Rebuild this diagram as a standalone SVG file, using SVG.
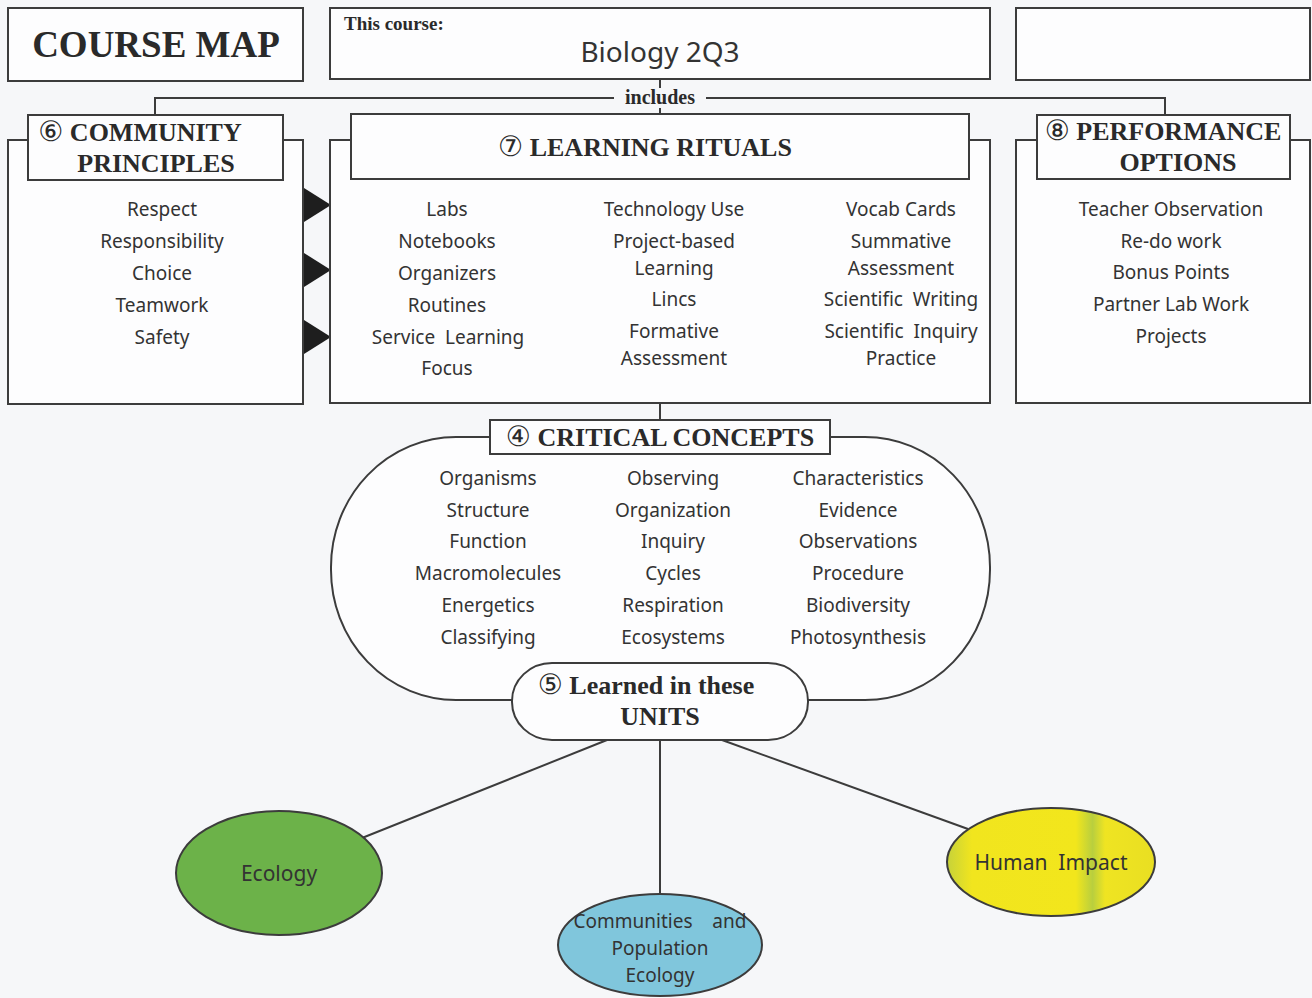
<svg xmlns="http://www.w3.org/2000/svg" width="1312" height="998" viewBox="0 0 1312 998">
<style>
.box{fill:#fdfdfe;stroke:#3c3c3c;stroke-width:2}
.hd{font-family:"Liberation Serif",serif;font-weight:bold;fill:#2a2a2a;text-anchor:middle}
.num{font-family:"DejaVu Sans",sans-serif;font-weight:normal;font-size:28px}
.t{font-family:"Noto Sans","DejaVu Sans",sans-serif;font-size:19px;fill:#333;text-anchor:middle}
.ln{stroke:#3c3c3c;stroke-width:2;fill:none}
.tri{fill:#1e1e1e}
</style>
<defs>
<linearGradient id="yg" x1="0" y1="0" x2="1" y2="0">
<stop offset="0" stop-color="#c6d23a"/>
<stop offset="0.12" stop-color="#f1e51e"/>
<stop offset="0.62" stop-color="#f2e61c"/>
<stop offset="0.7" stop-color="#b9cf3e"/>
<stop offset="0.76" stop-color="#efe422"/>
<stop offset="1" stop-color="#e9df22"/>
</linearGradient>
</defs>
<rect x="0" y="0" width="1312" height="998" fill="#f6f7f9"/>

<g id="connectors">
<line class="ln" x1="660" y1="79" x2="660" y2="114"/>
<line class="ln" x1="155" y1="98" x2="614" y2="98"/>
<line class="ln" x1="706" y1="98" x2="1165" y2="98"/>
<line class="ln" x1="155" y1="97" x2="155" y2="115"/>
<line class="ln" x1="1165" y1="97" x2="1165" y2="115"/>
<rect x="616" y="88" width="88" height="20" fill="#f6f7f9"/>
<text class="hd" x="660" y="104" font-size="20">includes</text>
<polygon class="tri" points="304,188 331,205 304,222"/>
<polygon class="tri" points="304,253 331,270 304,287"/>
<polygon class="tri" points="304,320 331,337 304,354"/>
<line class="ln" x1="660" y1="403" x2="660" y2="420"/>
<line class="ln" x1="607" y1="740" x2="362" y2="838"/>
<line class="ln" x1="660" y1="740" x2="660" y2="894"/>
<line class="ln" x1="722" y1="740" x2="968" y2="829"/>
</g>

<g id="course-map">
<rect class="box" x="8" y="8" width="295" height="73"/>
<text class="hd" x="156" y="57" font-size="37">COURSE MAP</text>
</g>

<g id="this-course">
<rect class="box" x="330" y="8" width="660" height="71"/>
<text class="hd" x="344" y="30" style="font-size:19px;text-anchor:start">This course:</text>
<text class="t" x="660" y="62" style="font-size:28px">Biology 2Q3</text>
</g>

<g id="blank-box">
<rect class="box" x="1016" y="8" width="294" height="72"/>
</g>

<g id="community-principles">
<rect class="box" x="8" y="140" width="295" height="264"/>
<rect class="box" x="28" y="115" width="255" height="65"/>
<text class="hd" x="140" y="141" font-size="26"><tspan class="num">⑥</tspan> COMMUNITY</text>
<text class="hd" x="156" y="172" font-size="26">PRINCIPLES</text>
<text class="t" x="162" y="216">Respect</text>
<text class="t" x="162" y="248">Responsibility</text>
<text class="t" x="162" y="280">Choice</text>
<text class="t" x="162" y="312">Teamwork</text>
<text class="t" x="162" y="344">Safety</text>
</g>

<g id="learning-rituals">
<rect class="box" x="330" y="140" width="660" height="263"/>
<rect class="box" x="351" y="114" width="618" height="65"/>
<text class="hd" x="645" y="156" font-size="26"><tspan class="num">⑦</tspan> LEARNING RITUALS</text>
<text class="t" x="447" y="216">Labs</text>
<text class="t" x="447" y="248">Notebooks</text>
<text class="t" x="447" y="280">Organizers</text>
<text class="t" x="447" y="312">Routines</text>
<text class="t" x="448" y="344" xml:space="preserve">Service  Learning</text>
<text class="t" x="447" y="375">Focus</text>
<text class="t" x="674" y="216">Technology Use</text>
<text class="t" x="674" y="248">Project-based</text>
<text class="t" x="674" y="275">Learning</text>
<text class="t" x="674" y="306">Lincs</text>
<text class="t" x="674" y="338">Formative</text>
<text class="t" x="674" y="365">Assessment</text>
<text class="t" x="901" y="216">Vocab Cards</text>
<text class="t" x="901" y="248">Summative</text>
<text class="t" x="901" y="275">Assessment</text>
<text class="t" x="901" y="306" xml:space="preserve">Scientific  Writing</text>
<text class="t" x="901" y="338" xml:space="preserve">Scientific  Inquiry</text>
<text class="t" x="901" y="365">Practice</text>
</g>

<g id="performance-options">
<rect class="box" x="1016" y="140" width="294" height="263"/>
<rect class="box" x="1037" y="115" width="253" height="64"/>
<text class="hd" x="1163" y="140" font-size="26"><tspan class="num">⑧</tspan> PERFORMANCE</text>
<text class="hd" x="1178" y="171" font-size="26">OPTIONS</text>
<text class="t" x="1171" y="216">Teacher Observation</text>
<text class="t" x="1171" y="248">Re-do work</text>
<text class="t" x="1171" y="279">Bonus Points</text>
<text class="t" x="1171" y="311">Partner Lab Work</text>
<text class="t" x="1171" y="343">Projects</text>
</g>

<g id="critical-concepts">
<rect class="box" x="331" y="437" width="659" height="263" rx="125" ry="130"/>
<rect class="box" x="490" y="420" width="340" height="34"/>
<text class="hd" x="660" y="446" font-size="26"><tspan class="num">④</tspan> CRITICAL CONCEPTS</text>
<text class="t" x="488" y="485">Organisms</text>
<text class="t" x="488" y="517">Structure</text>
<text class="t" x="488" y="548">Function</text>
<text class="t" x="488" y="580">Macromolecules</text>
<text class="t" x="488" y="612">Energetics</text>
<text class="t" x="488" y="644">Classifying</text>
<text class="t" x="673" y="485">Observing</text>
<text class="t" x="673" y="517">Organization</text>
<text class="t" x="673" y="548">Inquiry</text>
<text class="t" x="673" y="580">Cycles</text>
<text class="t" x="673" y="612">Respiration</text>
<text class="t" x="673" y="644">Ecosystems</text>
<text class="t" x="858" y="485">Characteristics</text>
<text class="t" x="858" y="517">Evidence</text>
<text class="t" x="858" y="548">Observations</text>
<text class="t" x="858" y="580">Procedure</text>
<text class="t" x="858" y="612">Biodiversity</text>
<text class="t" x="858" y="644">Photosynthesis</text>
</g>

<g id="learned-units">
<rect class="box" x="512" y="663" width="296" height="77" rx="40" ry="38"/>
<text class="hd" x="646" y="694" font-size="26"><tspan class="num">⑤</tspan> Learned in these</text>
<text class="hd" x="660" y="725" font-size="26">UNITS</text>
</g>

<g id="ecology">
<ellipse cx="279" cy="873" rx="103" ry="62" fill="#6cb249" stroke="#3c3c3c" stroke-width="2"/>
<text class="t" x="279" y="881" style="font-size:21px">Ecology</text>
</g>

<g id="communities">
<ellipse cx="660" cy="945" rx="102" ry="51" fill="#80c6dc" stroke="#3c3c3c" stroke-width="2"/>
<text class="t" x="660" y="928" xml:space="preserve">Communities    and</text>
<text class="t" x="660" y="955">Population</text>
<text class="t" x="660" y="982">Ecology</text>
</g>

<g id="human-impact">
<ellipse cx="1051" cy="862" rx="104" ry="54" fill="url(#yg)" stroke="#3c3c3c" stroke-width="2"/>
<text class="t" x="1051" y="870" style="font-size:21px" xml:space="preserve">Human  Impact</text>
</g>
</svg>
